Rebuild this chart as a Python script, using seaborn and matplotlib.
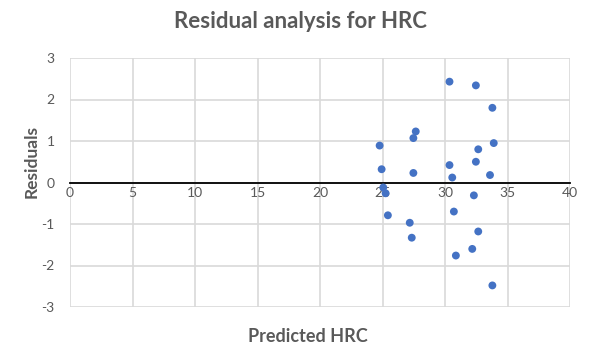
import numpy as np
import pandas as pd
import seaborn as sns
from matplotlib import pyplot as plt

# values
predicted = [30.36, 32.47, 33.79, 27.66, 27.47, 24.77, 33.90, 32.66, 32.47, 30.36,
             24.93, 27.47, 30.58, 33.60, 25.06, 25.25, 32.31, 25.43, 30.71, 27.18,
             27.34, 32.66, 32.18, 30.87, 33.79]
residuals = [2.43, 2.34, 1.80, 1.23, 1.07, 0.89, 0.95, 0.80, 0.50, 0.42,
             0.32, 0.23, 0.12, 0.18, -0.12, -0.26, -0.31, -0.79, -0.70, -0.97,
             -1.33, -1.18, -1.60, -1.76, -2.48]
x_ticks = [0, 5, 10, 15, 20, 25, 30, 35, 40]
y_ticks = [-3, -2, -1, 0, 1, 2, 3]

df = pd.DataFrame({"Predicted HRC": predicted, "Residuals": residuals})

sns.set_style("white")
plt.rcParams["font.family"] = ["Lato", "DejaVu Sans"]

text_grey = "#595959"
grid_grey = "#d9d9d9"

fig = plt.figure(figsize=(5.91, 3.52), dpi=100)
ax = fig.add_axes([70 / 591, 1 - 307 / 352, 500 / 591, 249 / 352])

sns.scatterplot(data=df, x="Predicted HRC", y="Residuals", ax=ax,
                color="#4472C4", s=32, edgecolor="none", zorder=3)

ax.set_xlim(0, 40)
ax.set_ylim(-3, 3)
ax.set_xticks(x_ticks)
ax.set_yticks(y_ticks)
ax.set_xticklabels([str(v) for v in x_ticks])
ax.set_yticklabels([str(v) for v in y_ticks])

ax.grid(True, color=grid_grey, linewidth=1.2, zorder=0)
ax.set_axisbelow(True)
for side in ["top", "right", "left"]:
    ax.spines[side].set_visible(False)
ax.spines["bottom"].set_position(("data", 0))
ax.spines["bottom"].set_color("black")
ax.spines["bottom"].set_linewidth(1.3)
ax.spines["bottom"].set_zorder(2)

ax.tick_params(axis="both", length=0, labelsize=10, labelcolor=text_grey)
ax.tick_params(axis="x", pad=3)
ax.tick_params(axis="y", pad=11)

ax.set_xlabel("")
ax.set_ylabel("")

fig.text(300 / 591, 1 - 22 / 352, "Residual analysis for HRC", ha="center", va="center",
         fontsize=16, fontweight="bold", color=text_grey)
fig.text(32 / 591, 1 - 162 / 352, "Residuals", ha="center", va="center", rotation=90,
         fontsize=12.5, fontweight="bold", color=text_grey)
fig.text(308 / 591, 1 - 336 / 352, "Predicted HRC", ha="center", va="center",
         fontsize=13, fontweight="bold", color=text_grey)

fig.savefig("out.png", dpi=100)
